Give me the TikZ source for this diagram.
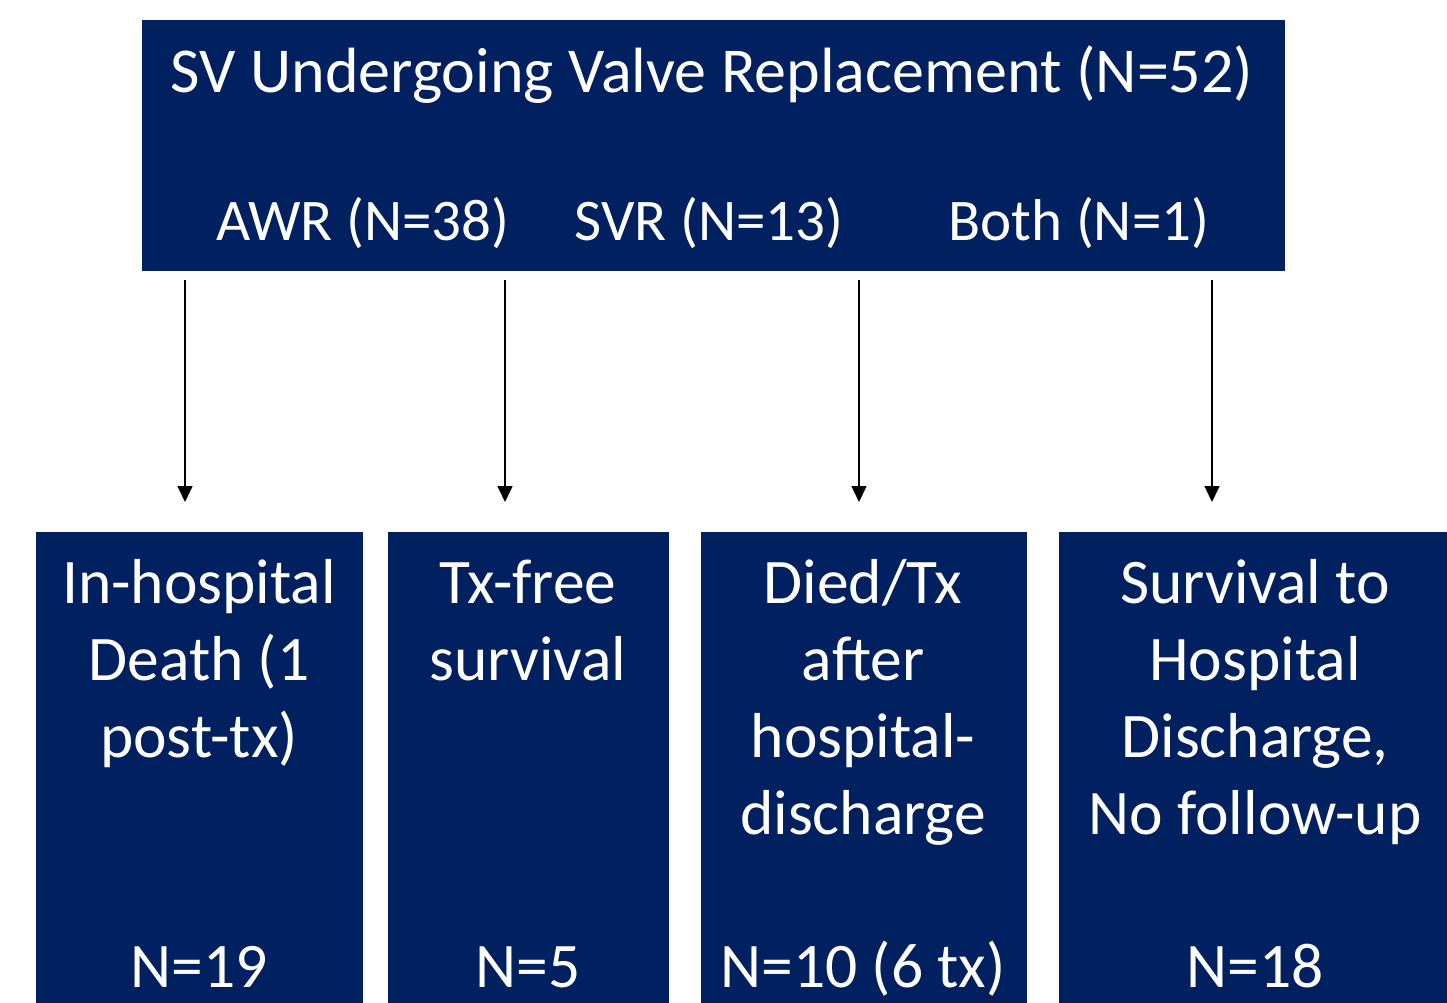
\documentclass[tikz,border=0pt]{standalone}
\usepackage{fontspec}
\setmainfont{Carlito}
\usetikzlibrary{arrows.meta}
\definecolor{navy}{RGB}{0,32,96}
\begin{document}
\begin{tikzpicture}[x=1pt, y=-1pt, >={Triangle[width=15pt,length=16pt]}, line width=1.6pt,
	box/.style={fill=navy, draw=none, inner sep=0pt, anchor=north west},
	txt/.style={text=white, inner sep=0pt, align=center, anchor=base, font=\fontsize{63.5}{77}\selectfont},
	sub/.style={txt, font=\fontsize{59}{70}\selectfont}]
	
	\useasboundingbox (0,0) rectangle (1447,1002);
	
	% top box
	\node[box, minimum width=1143pt, minimum height=251pt] (top) at (141,19) {};
	\node[txt, font=\fontsize{64}{77}\selectfont] (title) at (712,92) {SV Undergoing Valve Replacement (N=52)};
	\node[sub] (awr) at (363,240) {AWR (N=38)};
	\node[sub] (svr) at (709,240) {SVR (N=13)};
	\node[sub] (both) at (1079,240) {Both (N=1)};
	
	% outcome boxes
	\foreach \n/\x/\w in {b1/35/327, b2/387/281, b3/700/326, b4/1058/389}
		\node[box, minimum width=\w pt, minimum height=471pt] (\n) at (\x,531) {};
	
	% base anchor sits on the last line
	\node[txt] (t1) at (199,757) {In-hospital\\Death (1\\post-tx)};
	\node[txt] (t2) at (528,680) {Tx-free\\survival};
	\node[txt] (t3) at (863,834) {Died/Tx\\after\\hospital-\\discharge};
	\node[txt] (t4) at (1255,834) {Survival to\\Hospital\\Discharge,\\No follow-up};
	
	\foreach \n/\x/\v in {n1/199/N=19, n2/528/N=5, n3/863/N=10 (6 tx), n4/1255/N=18}
		\node[txt] (\n) at (\x,987) {\v};
	
	% arrows
	\foreach \i/\x in {1/185, 2/505, 3/859, 4/1212} {
		\coordinate (s\i) at (\x,280);
		\coordinate (e\i) at (\x,502);
		\draw[->] (s\i) -- (e\i);
	}
	
\end{tikzpicture}
\end{document}
